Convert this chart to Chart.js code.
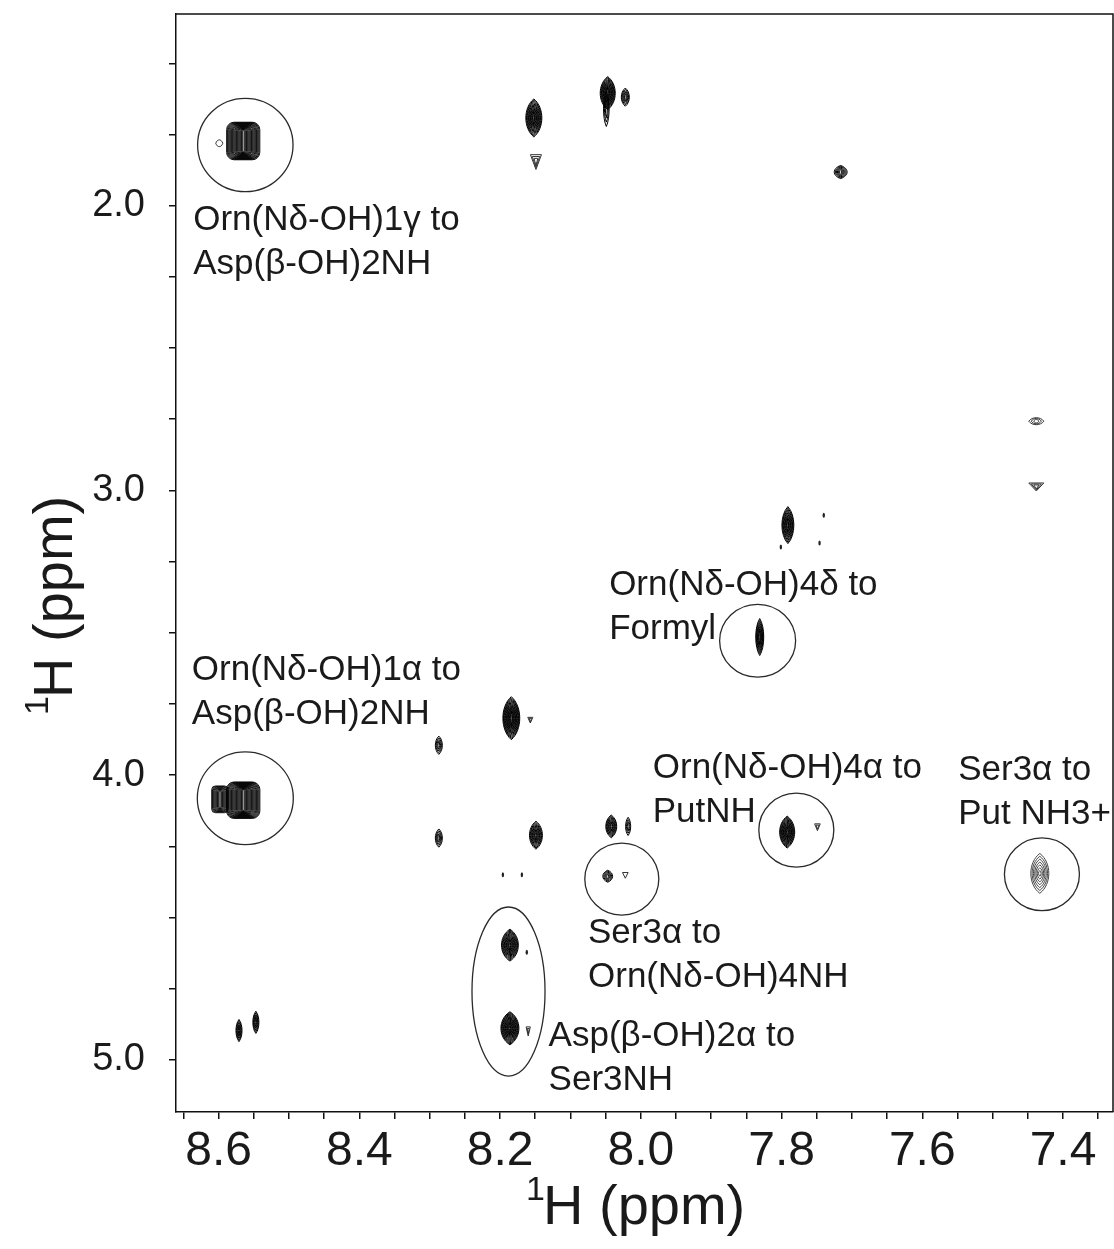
<!DOCTYPE html>
<html>
<head>
<meta charset="utf-8">
<script src="https://cdn.jsdelivr.net/npm/chart.js@4.4.0/dist/chart.umd.min.js"></script>
<style>
  html, body { margin: 0; padding: 0; background: #fff; }
</style>
</head>
<body>
<canvas id="noesy" width="1114" height="1249"></canvas>
<script>
// plotted window, ppm (both axes run "backwards", as usual for NMR)
const f2Range = [7.329, 8.6605];
const f1Range = [1.327, 5.183];

// tick positions
const f2Major = [8.6, 8.4, 8.2, 8.0, 7.8, 7.6, 7.4];
const f2MinorStep = 0.05;
const f1Major = [2.0, 3.0, 4.0, 5.0];
const f1MinorStep = 0.25;

// cross peaks: [F2 ppm, F1 ppm, half-width F2, half-width F1, contour levels]
const blockPeaks = [
  [8.565, 1.773, 0.0236, 0.066, 20],
  [8.565, 4.088, 0.0237, 0.064, 20],
  [8.598, 4.085, 0.0118, 0.047, 10]
];
const sharpPeaks = [
  [8.152, 1.692, 0.0114, 0.0667, 12],
  [8.047, 1.605, 0.0107, 0.058, 12],
  [8.049, 1.660, 0.0040, 0.062, 3],
  [8.022, 1.619, 0.0057, 0.032, 5],
  [7.716, 1.882, 0.0092, 0.023, 6],
  [8.184, 3.800, 0.0120, 0.0755, 14],
  [8.287, 3.895, 0.0050, 0.032, 4],
  [8.287, 4.221, 0.0050, 0.032, 4],
  [8.149, 4.211, 0.0092, 0.049, 9],
  [8.042, 4.180, 0.0078, 0.040, 8],
  [8.018, 4.180, 0.0036, 0.032, 3],
  [8.047, 4.355, 0.0070, 0.021, 5],
  [8.186, 4.597, 0.0120, 0.056, 12],
  [8.186, 4.889, 0.0128, 0.058, 14],
  [7.791, 3.122, 0.0085, 0.065, 9],
  [7.831, 3.515, 0.0057, 0.065, 7],
  [7.792, 4.200, 0.0107, 0.056, 12],
  [8.571, 4.897, 0.0043, 0.039, 5],
  [8.547, 4.868, 0.0043, 0.039, 5]
];
const weakPeaks = [
  [7.433, 4.345, 0.0128, 0.070, 7]
];
const flatPeaks = [
  [7.438, 2.757, 0.0107, 0.0123, 3],
  [8.599, 1.781, 0.0050, 0.012, 1]
];
const trianglePeaks = [
  [7.438, 2.988, 0.0107, 0.014, 3],
  [8.149, 1.847, 0.0078, 0.026, 3],
  [8.157, 3.807, 0.0036, 0.010, 2],
  [7.749, 4.183, 0.0040, 0.012, 2],
  [8.022, 4.352, 0.0040, 0.010, 1],
  [8.160, 4.900, 0.0030, 0.016, 2]
];
const noiseSpots = [
  [8.196, 4.350], [8.169, 4.350], [8.162, 4.622],
  [7.801, 3.199], [7.746, 3.185], [7.740, 3.087]
];

// assigned cross peaks: ring centre and radii, ppm
const assignedRings = [
  [8.562, 1.787, 0.0678, 0.164],
  [8.562, 4.081, 0.0682, 0.163],
  [7.834, 3.528, 0.0540, 0.128],
  [7.779, 4.193, 0.0533, 0.130],
  [8.027, 4.365, 0.0526, 0.1265],
  [8.188, 4.760, 0.0519, 0.297],
  [7.430, 4.348, 0.0533, 0.128]
];

// assignment captions, anchored at the left end of the first line
const captions = [
  [8.636, 2.051, "Orn(N\u03b4-OH)1\u03b3 to", "Asp(\u03b2-OH)2NH"],
  [8.638, 3.631, "Orn(N\u03b4-OH)1\u03b1 to", "Asp(\u03b2-OH)2NH"],
  [8.045, 3.333, "Orn(N\u03b4-OH)4\u03b4 to", "Formyl"],
  [7.983, 3.976, "Orn(N\u03b4-OH)4\u03b1 to", "PutNH"],
  [7.549, 3.983, "Ser3\u03b1 to", "Put NH3+"],
  [8.075, 4.555, "Ser3\u03b1 to", "Orn(N\u03b4-OH)4NH"],
  [8.131, 4.917, "Asp(\u03b2-OH)2\u03b1 to", "Ser3NH"]
];

const toPoints = rows => rows.map(([x, y, wx, wy, n]) => ({ x, y, wx, wy, n }));

function stepTicks(lo, hi, step) {
  const out = [];
  for (let k = Math.ceil(lo / step - 1e-9); k * step <= hi + 1e-9; k++) {
    out.push({ value: Math.round(k * step * 1000) / 1000 });
  }
  return out;
}

function isMajor(v, majors) {
  return majors.some(m => Math.abs(m - v) < 1e-6);
}

// contour outlines
function tracePath(ctx, shape, cx, cy, a, b) {
  ctx.beginPath();
  if (shape === "block") {
    ctx.roundRect(cx - a, cy - b, 2 * a, 2 * b, Math.min(a, b) * 0.45);
  } else if (shape === "sharp") {
    ctx.moveTo(cx, cy - b);
    ctx.bezierCurveTo(cx + a * 1.33, cy - b * 0.55, cx + a * 1.33, cy + b * 0.55, cx, cy + b);
    ctx.bezierCurveTo(cx - a * 1.33, cy + b * 0.55, cx - a * 1.33, cy - b * 0.55, cx, cy - b);
  } else if (shape === "flat") {
    ctx.moveTo(cx - a, cy);
    ctx.bezierCurveTo(cx - a * 0.55, cy - b * 1.33, cx + a * 0.55, cy - b * 1.33, cx + a, cy);
    ctx.bezierCurveTo(cx + a * 0.55, cy + b * 1.33, cx - a * 0.55, cy + b * 1.33, cx - a, cy);
  } else if (shape === "triangle") {
    ctx.moveTo(cx - a, cy - b);
    ctx.lineTo(cx + a, cy - b);
    ctx.lineTo(cx, cy + b);
  }
  ctx.closePath();
}

const contourPlugin = {
  id: "contours",
  afterDatasetsDraw(chart) {
    const { ctx, chartArea, scales: { x: xs, y: ys } } = chart;
    ctx.save();
    ctx.beginPath();
    ctx.rect(chartArea.left, chartArea.top, chartArea.right - chartArea.left, chartArea.bottom - chartArea.top);
    ctx.clip();
    chart.data.datasets.forEach((ds, di) => {
      const meta = chart.getDatasetMeta(di);
      meta.data.forEach((pt, i) => {
        const d = ds.data[i];
        const cx = pt.x, cy = pt.y;
        if (ds.shape === "spot") {
          ctx.fillStyle = "#222";
          ctx.beginPath();
          ctx.ellipse(cx, cy, 1.2, 2.5, 0, 0, Math.PI * 2);
          ctx.fill();
          return;
        }
        const a = Math.abs(xs.getPixelForValue(d.x + d.wx) - cx);
        const b = Math.abs(ys.getPixelForValue(d.y + d.wy) - cy);
        ctx.strokeStyle = ds.lineColor;
        ctx.lineWidth = ds.lineW;
        if (ds.shape === "ring") {
          ctx.beginPath();
          ctx.ellipse(cx, cy, a, b, 0, 0, Math.PI * 2);
          ctx.stroke();
          return;
        }
        for (let k = 0; k < d.n; k++) {
          const f = 1 - k / d.n;
          let fy = ds.shape === "block" ? 0.55 + 0.45 * f : 0.25 + 0.75 * f;
          if (ds.uniform) fy = f;
          tracePath(ctx, ds.shape, cx, cy, Math.max(a * f, 0.6), Math.max(b * fy, 0.8));
          ctx.stroke();
        }
      });
    });
    ctx.restore();
  }
};

const textPlugin = {
  id: "captions",
  afterDraw(chart) {
    const { ctx, chartArea, scales: { x: xs, y: ys } } = chart;
    ctx.save();

    // frame: top and right edges of the box
    ctx.strokeStyle = "#111";
    ctx.lineWidth = 1.5;
    ctx.beginPath();
    ctx.moveTo(chartArea.left, chartArea.top);
    ctx.lineTo(chartArea.right, chartArea.top);
    ctx.lineTo(chartArea.right, chartArea.bottom);
    ctx.stroke();

    ctx.fillStyle = "#1a1a1a";
    ctx.textBaseline = "middle";
    ctx.textAlign = "left";
    ctx.font = '35px "Liberation Sans", Arial, sans-serif';
    captions.forEach(([x, y, l1, l2]) => {
      const px = xs.getPixelForValue(x);
      const py = ys.getPixelForValue(y);
      ctx.fillText(l1, px, py);
      ctx.fillText(l2, px, py + 44);
    });

    // axis titles
    ctx.textBaseline = "alphabetic";
    ctx.font = '34px "Liberation Sans", Arial, sans-serif';
    ctx.fillText("1", 526, 1200);
    ctx.font = '56px "Liberation Sans", Arial, sans-serif';
    ctx.fillText("H (ppm)", 543, 1224);

    ctx.translate(72, 715);
    ctx.rotate(-Math.PI / 2);
    ctx.font = '34px "Liberation Sans", Arial, sans-serif';
    ctx.fillText("1", 0, -24);
    ctx.font = '56px "Liberation Sans", Arial, sans-serif';
    ctx.fillText("H (ppm)", 17, 0);
    ctx.restore();
  }
};

const axisGrid = { drawOnChartArea: false, drawTicks: true, tickLength: 7, color: "#111", lineWidth: 1.5 };

new Chart(document.getElementById("noesy").getContext("2d"), {
  type: "scatter",
  data: {
    datasets: [
      { shape: "ring", lineColor: "#2a2a2a", lineW: 1.3, data: assignedRings.map(([x, y, wx, wy]) => ({ x, y, wx, wy })) },
      { shape: "block", lineColor: "#000", lineW: 0.9, data: toPoints(blockPeaks) },
      { shape: "sharp", lineColor: "#000", lineW: 1, data: toPoints(sharpPeaks) },
      { shape: "sharp", uniform: true, lineColor: "#444", lineW: 1, data: toPoints(weakPeaks) },
      { shape: "flat", lineColor: "#333", lineW: 1, data: toPoints(flatPeaks) },
      { shape: "triangle", lineColor: "#333", lineW: 1, data: toPoints(trianglePeaks) },
      { shape: "spot", data: noiseSpots.map(([x, y]) => ({ x, y })) }
    ].map(ds => Object.assign(ds, { pointRadius: 0, showLine: false }))
  },
  options: {
    responsive: false,
    animation: false,
    events: [],
    layout: { padding: { top: 14, right: 1, left: 0, bottom: 0 } },
    plugins: { legend: { display: false }, tooltip: { enabled: false } },
    scales: {
      x: {
        type: "linear",
        reverse: true,
        min: f2Range[0],
        max: f2Range[1],
        afterBuildTicks: s => { s.ticks = stepTicks(f2Range[0], f2Range[1], f2MinorStep); },
        afterFit: s => { s.height = 137; s.paddingLeft = 0; s.paddingRight = 0; },
        grid: axisGrid,
        border: { display: true, color: "#111", width: 1.5 },
        ticks: {
          autoSkip: false,
          maxRotation: 0,
          padding: 4,
          color: "#1a1a1a",
          font: { family: '"Liberation Sans Narrow", "Liberation Sans", Arial', size: 48 },
          callback: v => isMajor(v, f2Major) ? v.toFixed(1) : ""
        }
      },
      y: {
        type: "linear",
        reverse: true,
        min: f1Range[0],
        max: f1Range[1],
        afterBuildTicks: s => { s.ticks = stepTicks(f1Range[0], f1Range[1], f1MinorStep); },
        afterFit: s => { s.width = 176; s.paddingTop = 0; s.paddingBottom = 0; },
        grid: axisGrid,
        border: { display: true, color: "#111", width: 1.5 },
        ticks: {
          autoSkip: false,
          padding: 24,
          color: "#1a1a1a",
          font: { family: '"Liberation Sans", Arial', size: 38 },
          callback: v => isMajor(v, f1Major) ? v.toFixed(1) : ""
        }
      }
    }
  },
  plugins: [contourPlugin, textPlugin]
});
</script>
</body>
</html>
